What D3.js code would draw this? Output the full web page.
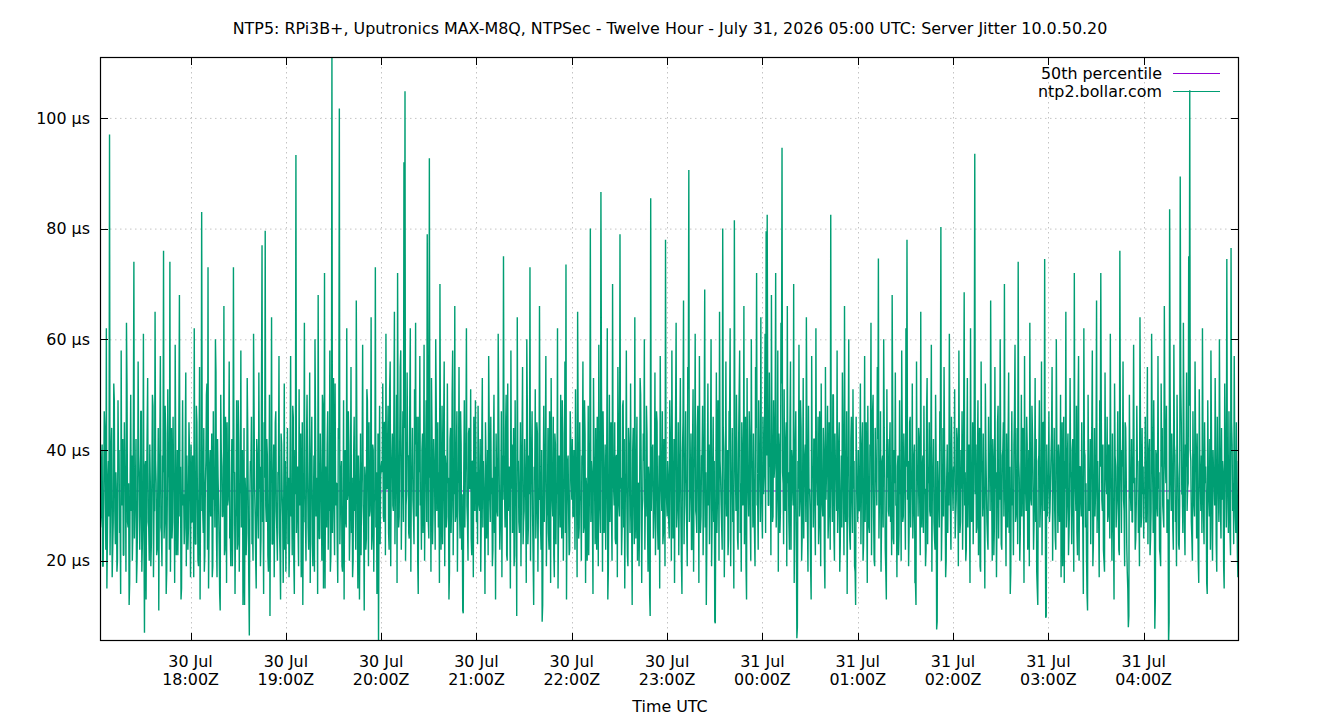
<!DOCTYPE html>
<html>
<head>
<meta charset="utf-8">
<script src="https://cdn.jsdelivr.net/npm/d3@7"></script>
<style>
  html, body { margin: 0; padding: 0; background: #fff; }
  svg { display: block; font-family: "DejaVu Sans", sans-serif; }
</style>
</head>
<body>
<svg id="chart" width="1340" height="720"></svg>
<script>
// Server jitter (µs), one sample every 20 s. For each UTC hour: "a" = even samples, "b" = odd samples.
const hour17a = [55,28,41,19,47,33,62,24,38,97, 31,44,22,52,29,36,18,49,40,26, 58,33,21,45,37,63,27,34,16,50,
  39,25,74,30,42,20,56,35,28,47, 23,61,7,38,32,53,26,41,19,36, 48,29,65,34,22,44,31,57,25,39,
  76,27,43,18,51,35,74,30,24,46, 33,59,21,40,28,68,37,15,49,32, 26,54,39,22,45,30];
const hour17b = [26,38,19,31,44,22,15,35,28,21, 40,17,27,49,23,32,20,38,25,14, 30,42,21,34,18,52,26,12,36,29,
  20,45,24,33,16,28,39,22,47,18, 31,25,37,13,43,27,20,34,23,50, 17,29,38,21,32,11,41,26,19,36,
  24,48,14,30,37,22,18,44,27,33, 16,39,25,21,46,28,13,35,30,23, 42,19,32,26,40,17];
const hour18a = [41,27,36,62,23,48,31,19,55,34, 83,29,44,21,38,52,73,26,40,33, 17,47,35,60,24,42,30,14,50,37,
  28,66,22,39,45,31,56,25,34,19, 73,36,28,49,23,41,32,58,27,12, 44,35,21,53,30,6.5,38,46,26,61,
  33,20,42,29,54,37,24,77,31,45, 79.6,27,39,18,50,34,64,23,41,30, 47,25,36,57,21,43,32,16,52,38];
const hour18b = [27,39,17,32,23,45,20,36,13,29, 41,25,18,34,50,22,15,37,28,43, 19,31,26,54,17,35,23,11,40,28,
  33,21,46,16,30,38,24,19,42,27, 36,14,29,22,49,18,34,26,40,21, 12,32,25,44,16,31,37,23,20,47,
  28,15,39,24,33,19,52,27,14,35, 30,42,21,26,10,38,23,34,17,45, 29,20,36,25,13,41,28,32,22,18];
const hour19a = [29,44,35,23,57,31,48,20,40,93.3, 33,26,51,38,17,45,30,63,27,42, 36,22,54,32,46,19,39,60,28,35,
  68,24,43,31,50,15,72,37,26,47, 33,58,21,112,40,29,52,34,23,44, 101.7,30,38,18,49,36,27,62,32,41,
  25,55,35,20,46,31,67,28,39,13, 43,34,59,26,37,22,51,33,45,29, 64,24,40,31,73,36,19,5,48,35];
const hour19b = [34,23,17,40,28,21,46,14,32,25, 37,19,30,43,22,12,36,27,20,50, 26,33,16,39,23,29,18,45,31,14,
  38,24,35,20,48,27,15,32,41,22, 29,18,37,25,53,21,30,34,16,42, 23,36,19,28,13,40,26,31,47,20,
  34,25,17,39,29,22,44,15,33,27, 21,38,30,11,35,24,49,19,28,36, 22,41,18,31,26,14,43,32,23,37];
const hour20a = [38,52,27,45,61,33,48,22,56,36, 43,29,65,34,50,72,26,41,58,31, 47,92,104.8,30,54,39,24,62,35,44,
  28,51,63,37,20,46,57,32,40,25, 59,34,49,79,27,92.7,38,53,23,42, 33,60,29,45,36,70,22,48,31,56,
  39,26,52,35,18,44,30,58,37,66, 28,47,34,55,24,41,32,10.5,49,36, 62,27,43,33,51,21,38,46,29,40];
const hour20b = [36,28,45,21,33,40,25,51,19,38, 30,47,23,34,16,42,28,55,22,37, 27,44,20,32,39,25,49,18,35,31,
  23,41,28,46,14,36,30,22,43,33, 20,39,27,52,24,35,18,44,29,37, 22,48,32,26,16,40,31,23,45,19,
  37,28,34,13,42,25,50,21,32,27, 39,18,35,29,47,22,11,36,26,41, 30,20,44,33,24,38,17,31,49,27];
const hour21a = [36,48,30,42,27,53,38,33,45,24, 40,57,31,46,35,22,50,37,43,29, 61,34,26,47,39,75,32,44,21,52,
  36,28,58,41,33,19,49,30,64,38, 25,45,35,55,27,42,31,60,23,39, 73,34,47,20,37,51,29,43,32,66,
  26,40,12,48,35,57,28,44,22,38, 53,31,46,17,41,34,62,27,36,50, 24,43,33,56,73.5,30,39,21,47,35];
const hour21b = [23,35,29,18,42,26,33,14,38,30, 21,45,27,32,19,40,25,13,36,28, 47,22,34,17,31,39,26,50,20,29,
  37,15,33,25,44,21,30,10,38,27, 34,19,42,23,29,36,16,48,26,32, 20,39,28,12,35,24,45,18,31,37,
  22,9,33,27,41,19,30,25,47,16, 36,28,21,43,23,32,15,39,26,30, 49,20,34,25,13,38,29,22,42,31];
const hour22a = [42,28,37,51,33,65,24,45,31,39, 56,26,43,35,20,48,30,80,38,27, 53,34,44,22,40,59,29,86.6,36,47,
  25,41,32,62,18,50,37,28,70,33, 45,23,39,55,30,79,35,26,49,42, 31,58,21,44,36,52,27,40,33,64,
  24,46,34,19,53,38,29,43,60,32, 48,26,37,14,85.5,35,41,28,54,30, 45,22,39,57,33,47,25,36,78,31];
const hour22b = [28,40,22,35,17,44,26,31,20,38, 25,49,16,33,29,21,42,27,36,14, 39,23,30,46,19,34,25,52,18,37,
  28,22,41,13,32,27,45,20,35,30, 24,39,17,43,28,33,21,48,26,15, 36,30,19,41,25,32,12,44,23,29,
  37,20,34,27,50,16,31,38,22,28, 43,18,35,10,29,40,24,33,21,47, 26,31,15,38,29,23,42,19,34,28];
const hour23a = [38,27,49,33,58,24,42,36,63,29, 45,31,53,20,40,67,34,47,26,55, 90.6,32,43,22,51,37,61,28,44,35,
  57,25,39,48,30,69,36,23,52,41, 33,60,27,46,38,8.7,54,31,43,65, 35,26,80,40,29,56,37,21,47,62,
  32,44,28,81.5,36,50,24,41,58,34, 45,30,66,39,19,53,33,47,27,60, 38,43,25,55,72,31,49,36,64,29];
const hour23b = [35,24,43,20,38,29,16,47,26,32, 21,40,28,14,45,23,36,30,19,51, 27,34,22,41,18,37,29,25,48,16,
  33,28,39,21,44,26,12,35,30,23, 42,19,37,27,9,32,25,49,20,38, 30,22,44,17,35,28,40,24,47,19,
  33,27,15,41,29,36,22,50,25,18, 39,31,23,46,13,34,28,42,20,37, 26,32,19,44,30,22,38,27,35,24];
const hour00a = [46,35,61,79.5,82.5,30,54,39,68,27, 49,37,72,31,58,43,25,63,94.6,34, 51,29,45,66,36,22,56,40,33,70,
  28,47,6,38,59,31,44,24,53,35, 41,64,27,48,33,19,57,37,42,29, 62,34,46,26,39,52,30,44,21,55,
  36,48,28,41,82.5,33,50,25,43,37, 58,30,45,23,39,54,32,66,27,47, 35,60,24,42,31,51,38,18,46,34];
const hour00b = [32,44,25,39,48,30,37,21,43,28, 35,47,26,32,18,40,29,52,36,23, 31,42,19,34,27,45,22,38,30,16,
  41,25,8,33,28,49,20,36,24,39, 27,44,18,32,29,13,37,26,42,21, 35,30,23,47,19,34,28,40,15,31,
  38,24,45,22,33,27,50,20,36,29, 25,41,18,32,26,43,21,37,30,14, 39,28,22,46,25,33,19,12,35,27];
const hour01a = [40,29,52,34,45,23,57,37,30,48, 26,41,63,33,50,20,44,36,55,74.6, 31,47,27,39,60,35,18,51,42,28,
  45,33,68,24,40,54,30,37,21,49, 35,58,27,43,32,62,78,38,25,46, 34,52,29,41,16,56,36,44,31,65,
  26,39,48,33,22,53,37,45,28,59, 35,42,24,50,7.6,38,31,47,80.3,27, 44,55,33,20,41,36,61,29,46,34];
const hour01b = [29,37,23,41,20,33,27,45,16,34, 25,39,21,47,28,19,36,30,42,24, 32,18,38,26,44,22,13,35,29,40,
  27,21,48,23,34,30,17,39,25,32, 20,43,28,36,22,37,31,19,45,26, 33,24,39,16,12,35,28,42,21,30,
  37,25,32,19,47,23,34,29,41,18, 36,27,22,38,9,33,26,44,20,31, 28,40,17,35,25,30,43,22,37,29];
const hour02a = [37,51,28,44,33,58,25,40,47,31, 68.5,36,22,53,39,30,62,27,45,34, 93.5,41,26,49,35,19,56,38,43,29,
  52,33,24,46,37,67,31,42,21,55, 36,28,48,34,60,23,39,45,70,30, 43,26,54,37,18,47,32,41,59,28,
  44,74,35,25,50,38,29,57,33,46, 22,40,63,31,48,36,27,53,42,15, 38,49,30,56,34,45,74.5,9.7,41,33];
const hour02b = [36,24,31,42,19,38,27,33,22,45, 30,20,37,26,41,16,34,29,23,48, 32,25,39,21,44,18,36,28,31,15,
  40,27,22,35,29,43,20,38,26,33, 17,45,24,31,37,22,40,28,34,19, 29,42,25,14,36,30,21,47,27,33,
  23,38,20,35,28,44,16,32,29,41, 25,19,37,30,43,22,34,27,18,12, 39,26,32,21,45,29,36,10,28,34];
const hour03a = [47,29,39,55,32,44,24,60,36,41, 27,50,34,19,46,38,65,30,43,25, 53,35,40,28,72,33,48,21,57,37,
  31,45,26,62,39,34,14,50,29,42, 36,58,23,44,32,67,38,27,49,72, 31,41,20,54,35,46,28,39,61,33,
  43,25,52,37,30,47,22,76,34,40, 56,29,45,36,18,8,50,32,42,27, 59,35,24,48,38,31,64,26,44,37];
const hour03b = [27,34,43,20,36,29,22,41,25,38, 31,17,45,28,16,33,26,39,21,30, 36,23,42,18,34,29,25,47,20,37,
  28,32,14,40,26,21,11,35,30,23, 44,19,33,28,39,25,31,17,37,45, 29,22,18,36,32,27,41,24,34,20,
  28,13,39,26,33,30,21,42,25,37, 31,19,44,23,15,10,36,29,27,40, 34,22,30,38,25,19,43,28,32,24];
const hour04a = [33,46,27,55,38,42,24,61,35,49, 7.7,40,30,57,36,21,52,44,28,66, 37,48,31,5,83.5,34,43,26,59,39,
  29,50,35,22,89.4,45,32,63,27,41, 54,33,75,105,38,24,47,30,56,36, 43,20,51,34,39,62,28,45,37,16,
  49,31,42,58,26,40,35,53,23,46, 33,60,29,44,38,19,52,36,74.5,30, 47,25,76.5,41,34,57,28,45,21,38];
const hour04b = [32,27,36,23,40,21,29,44,25,35, 13,39,28,33,22,19,37,30,26,47, 34,25,31,9,50,29,36,22,41,27,
  19,38,23,30,52,32,25,43,21,37, 29,34,48,40,27,20,35,28,42,24, 31,16,38,29,25,41,23,34,32,14,
  37,28,22,43,20,35,30,39,18,33, 27,42,24,31,36,15,40,26,37,25, 33,21,45,29,23,38,25,32,17,28];

const median50 = [32.6];
const yTicks = [20, 40, 60, 80, 100];
const xTicks = ["2026-07-30T18:00Z","2026-07-30T19:00Z","2026-07-30T20:00Z","2026-07-30T21:00Z",
  "2026-07-30T22:00Z","2026-07-30T23:00Z","2026-07-31T00:00Z","2026-07-31T01:00Z",
  "2026-07-31T02:00Z","2026-07-31T03:00Z","2026-07-31T04:00Z"];
const seriesNames = ["50th percentile", "ntp2.bollar.com"];
const title = "NTP5: RPi3B+, Uputronics MAX-M8Q, NTPSec - Twelve Hour - July 31, 2026 05:00 UTC: Server Jitter 10.0.50.20";

const GREEN = "#009e73", PURPLE = "#9400d3", FS = 15.9;
const hours = [[hour17a, hour17b], [hour18a, hour18b], [hour19a, hour19b], [hour20a, hour20b],
  [hour21a, hour21b], [hour22a, hour22b], [hour23a, hour23b], [hour00a, hour00b],
  [hour01a, hour01b], [hour02a, hour02b], [hour03a, hour03b], [hour04a, hour04b]];
const jitter = hours.flatMap(([a, b]) => a.flatMap((v, i) => [v, b[i]]));
const t0 = Date.UTC(2026, 6, 30, 17, 3, 0), stepMs = 20000;
const data = jitter.map((v, i) => ({ t: new Date(t0 + i * stepMs), v }));

const svg = d3.select("#chart");
const L = 100, R = 1239, T = 57, B = 641;

const x = d3.scaleUtc().domain(d3.extent(data, d => d.t)).range([L, R]);
const y = d3.scaleLinear().domain([5.5, 111]).range([B, T]);

svg.append("text").attr("x", 670).attr("y", 33.5).attr("text-anchor", "middle")
  .attr("font-size", FS).attr("fill", "#000").text(title);

svg.append("clipPath").attr("id", "plot").append("rect")
  .attr("x", L).attr("y", T).attr("width", R - L).attr("height", B - T);

// dotted grid
const grid = svg.append("g").attr("stroke", "#c4c4c4").attr("stroke-width", 1).attr("stroke-dasharray", "1.5,3.5");
yTicks.forEach(v => grid.append("line").attr("x1", L).attr("x2", R).attr("y1", y(v) + 0.5).attr("y2", y(v) + 0.5));
xTicks.forEach(s => { const px = Math.round(x(new Date(s))) + 0.5;
  grid.append("line").attr("x1", px).attr("x2", px).attr("y1", T).attr("y2", B); });

const plot = svg.append("g").attr("clip-path", "url(#plot)");
plot.append("path").datum(median50)
  .attr("d", d => `M${L},${y(d[0])}H${R}`)
  .attr("stroke", PURPLE).attr("stroke-width", 1).attr("fill", "none");
plot.append("path").datum(data)
  .attr("d", d3.line().x(d => x(d.t)).y(d => y(d.v)))
  .attr("stroke", GREEN).attr("stroke-width", 1.4).attr("stroke-linejoin", "bevel").attr("fill", "none");

// border + ticks (mirrored)
const ax = svg.append("g").attr("stroke", "#000").attr("stroke-width", 1);
ax.append("rect").attr("x", L + 0.5).attr("y", T + 0.5).attr("width", R - L - 1).attr("height", B - T - 1)
  .attr("fill", "none").attr("stroke-width", 1.2);
const TL = 8;
yTicks.forEach(v => { const py = Math.round(y(v)) + 0.5;
  ax.append("line").attr("x1", L).attr("x2", L + TL).attr("y1", py).attr("y2", py);
  ax.append("line").attr("x1", R - TL).attr("x2", R).attr("y1", py).attr("y2", py); });
xTicks.forEach(s => { const px = Math.round(x(new Date(s))) + 0.5;
  ax.append("line").attr("x1", px).attr("x2", px).attr("y1", B - TL).attr("y2", B);
  ax.append("line").attr("x1", px).attr("x2", px).attr("y1", T).attr("y2", T + TL); });

// tick labels
const lab = svg.append("g").attr("font-size", FS).attr("fill", "#000");
yTicks.forEach(v => lab.append("text").attr("x", 90).attr("y", y(v)).attr("dy", "0.36em")
  .attr("text-anchor", "end").text(`${v} µs`));
const fDay = d3.utcFormat("%d %b"), fHr = d3.utcFormat("%H:%MZ");
xTicks.forEach(s => { const d = new Date(s), px = x(d);
  const t = lab.append("text").attr("text-anchor", "middle");
  t.append("tspan").attr("x", px).attr("y", 666.5).text(fDay(d));
  t.append("tspan").attr("x", px).attr("y", 684.5).text(fHr(d)); });
lab.append("text").attr("x", 670).attr("y", 711.5).attr("text-anchor", "middle").text("Time UTC");

// key
const key = svg.append("g").attr("font-size", FS);
[PURPLE, GREEN].forEach((c, i) => {
  const ky = 73.5 + i * 18;
  key.append("text").attr("x", 1162).attr("y", ky).attr("dy", "0.36em").attr("text-anchor", "end").text(seriesNames[i]);
  key.append("line").attr("x1", 1173).attr("x2", 1220).attr("y1", ky).attr("y2", ky).attr("stroke", c).attr("stroke-width", 1);
});
</script>
</body>
</html>
